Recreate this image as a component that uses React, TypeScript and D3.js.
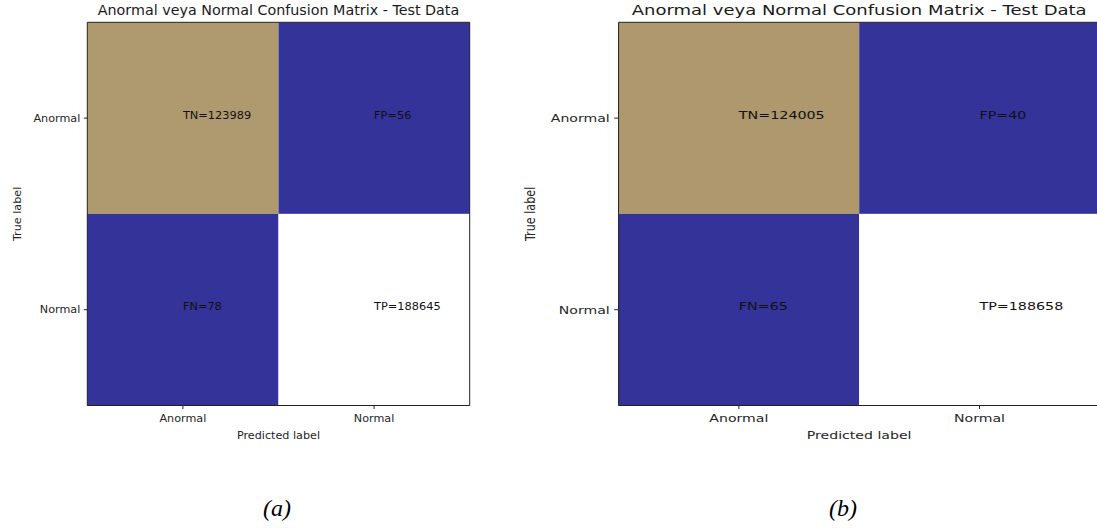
import React from "react";
import * as d3 from "d3";

const categories = ["Anormal", "Normal"];
const cellCodes = [["TN", "FP"], ["FN", "TP"]];
const valuesA = [[123989, 56], [78, 188645]];
const valuesB = [[124005, 40], [65, 188658]];
const captions = ["(a)", "(b)"];
const titleText = "Anormal veya Normal Confusion Matrix - Test Data";
const xAxisTitle = "Predicted label";
const yAxisTitle = "True label";

// matplotlib "terrain" colormap stops
const terrainStops = [0, 0.15, 0.25, 0.5, 0.75, 1];
const terrainColors = [
  "rgb(51,51,153)",
  "rgb(0,153,255)",
  "rgb(0,204,102)",
  "rgb(255,255,153)",
  "rgb(128,92,84)",
  "rgb(255,255,255)",
];

const FONT = "DejaVu Sans, sans-serif";
const X0 = 87.3, X1 = 469.7, Y0 = 22.3, Y1 = 405.5;

function Panel({ values, transform }: { values: number[][]; transform?: string }) {
  const x = d3.scaleBand().domain(categories).range([X0, X1]);
  const y = d3.scaleBand().domain(categories).range([Y0, Y1]);
  const flat = values.flat();
  const norm = d3.scaleLinear().domain([d3.min(flat)!, d3.max(flat)!]).range([0, 1]);
  const cmap = d3
    .scaleLinear<string>()
    .domain(terrainStops)
    .range(terrainColors)
    .interpolate(d3.interpolateRgb);
  const bw = x.bandwidth();
  const bh = y.bandwidth();
  const cx = (X0 + X1) / 2;
  return (
    <g transform={transform}>
      <text x={cx} y={15} textAnchor="middle" fontFamily={FONT} fontSize={14.3} fill="#1a1a1a">
        {titleText}
      </text>
      {categories.map((rc, i) =>
        categories.map((cc, j) => (
          <rect
            key={`r${i}${j}`}
            x={x(cc)}
            y={y(rc)}
            width={bw}
            height={bh}
            fill={cmap(norm(values[i][j]))}
          />
        ))
      )}
      {categories.map((rc, i) =>
        categories.map((cc, j) => (
          <text
            key={`t${i}${j}`}
            x={x(cc)! + bw / 2}
            y={y(rc)! + bh / 2 + 0.5}
            fontFamily={FONT}
            fontSize={11.35}
            fill="#111"
          >
            {`${cellCodes[i][j]}=${values[i][j]}`}
          </text>
        ))
      )}
      <rect
        x={X0}
        y={Y0}
        width={X1 - X0}
        height={Y1 - Y0}
        fill="none"
        stroke="#222"
        strokeWidth={1}
        vectorEffect="non-scaling-stroke"
      />
      {categories.map((c) => (
        <g key={`xt${c}`}>
          <line
            x1={x(c)! + bw / 2}
            x2={x(c)! + bw / 2}
            y1={Y1}
            y2={Y1 + 3.5}
            stroke="#222"
            strokeWidth={1}
            vectorEffect="non-scaling-stroke"
          />
          <text x={x(c)! + bw / 2} y={Y1 + 16.5} textAnchor="middle" fontFamily={FONT} fontSize={11.2} fill="#262626">
            {c}
          </text>
        </g>
      ))}
      {categories.map((c) => (
        <g key={`yt${c}`}>
          <line x1={X0 - 3.5} x2={X0} y1={y(c)! + bh / 2} y2={y(c)! + bh / 2} stroke="#222" strokeWidth={1} />
          <text
            x={X0 - 7}
            y={y(c)! + bh / 2}
            textAnchor="end"
            dominantBaseline="central"
            fontFamily={FONT}
            fontSize={11.2}
            fill="#262626"
          >
            {c}
          </text>
        </g>
      ))}
      <text x={cx} y={439} textAnchor="middle" fontFamily={FONT} fontSize={11.2} fill="#262626">
        {xAxisTitle}
      </text>
      <text
        transform={`translate(17,${(Y0 + Y1) / 2}) rotate(-90)`}
        textAnchor="middle"
        dominantBaseline="central"
        fontFamily={FONT}
        fontSize={11.2}
        fill="#262626"
      >
        {yAxisTitle}
      </text>
    </g>
  );
}

export default function App() {
  return (
    <svg
      width={1097}
      height={528}
      style={{ position: "absolute", left: 0, top: 0, background: "#fff" }}
    >
      <rect x={0} y={0} width={1097} height={528} fill="#fff" />
      <Panel values={valuesA} />
      <Panel values={valuesB} transform="translate(508.7,0) scale(1.2585,1)" />
      <text x={277} y={516} textAnchor="middle" fontFamily="Liberation Serif, serif" fontStyle="italic" fontSize={24} fill="#000">
        {captions[0]}
      </text>
      <text x={843} y={516} textAnchor="middle" fontFamily="Liberation Serif, serif" fontStyle="italic" fontSize={24} fill="#000">
        {captions[1]}
      </text>
    </svg>
  );
}
